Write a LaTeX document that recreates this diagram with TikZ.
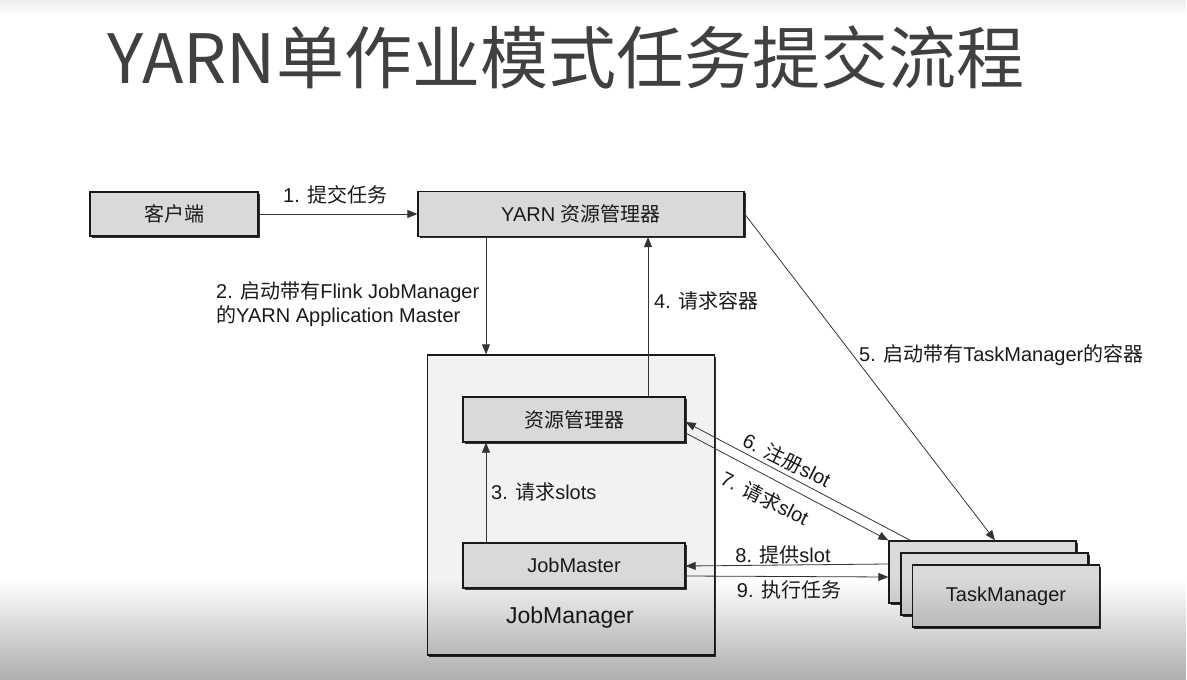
\documentclass[tikz,border=0pt]{standalone}
\usepackage{fontspec}
\setmainfont{Liberation Sans}
\newfontfamily\cjk{Noto Sans CJK SC}
\usetikzlibrary{arrows.meta,shadows,fadings,calc}
\definecolor{boxgray}{HTML}{D9D9D9}
\definecolor{jmfill}{HTML}{F2F2F2}
\definecolor{titlegray}{HTML}{404040}
\definecolor{txt}{HTML}{1A1A1A}
\tikzfading[name=botfade, top color=transparent!100, bottom color=transparent!68]
\tikzfading[name=topfade, top color=transparent!93, bottom color=transparent!100]
\begin{document}
\begin{tikzpicture}[x=1pt,y=-1pt,
  box/.style={draw=black!90, line width=1.3pt, fill=boxgray, inner sep=0pt,
    drop shadow={shadow xshift=1.5pt, shadow yshift=-1.5pt, fill=black!80, opacity=1},
    text=txt, font=\fontsize{20}{24}\selectfont},
  outerbox/.style={box, fill=jmfill},
  arr/.style={draw=black!80, line width=0.8pt, -{Triangle[length=10pt,width=8pt]}},
  lbl/.style={inner sep=0pt, text=txt, font=\fontsize{20}{24}\selectfont}]
\useasboundingbox (0,0) rectangle (1187,680);
\fill[white] (0,0) rectangle (1187,680);
\fill[black, path fading=topfade] (0,0) rectangle (1187,16);

% title
\node[anchor=base west, inner sep=0pt, text=titlegray, font=\cjk\fontsize{68}{72}\selectfont] (title) at (107,83) {YARN单作业模式任务提交流程};

% boxes
\node[box, minimum width=168, minimum height=44] (client) at (174,214) {\cjk 客户端};
\node[box, minimum width=326, minimum height=45] (yarn) at (581,214) {YARN {\cjk 资源管理器}};
\node[outerbox, minimum width=287, minimum height=300] (jm) at (571,505) {};
\node[lbl, font=\fontsize{23}{27}\selectfont] (jmlabel) at (570,618) {JobManager};
\node[box, minimum width=222, minimum height=45] (rm) at (574,419.5) {\cjk 资源管理器};
\node[box, minimum width=222, minimum height=45] (jmaster) at (574,565.5) {JobMaster};
\node[box, minimum width=187, minimum height=62] (tm1) at (982.5,572) {};
\node[box, minimum width=187, minimum height=62] (tm2) at (994.5,584) {};
\node[box, minimum width=187, minimum height=62] (tm3) at (1006,596) {TaskManager};

% helper coordinates
\coordinate (xa) at (486,0);
\coordinate (xb) at (648,0);
\coordinate (xc) at (995,0);

% connectors
\draw[arr] (client.east) -- (yarn.west);
\draw[arr] (yarn.south -| xa) -- (jm.north -| xa);
\draw[arr] (rm.north -| xb) -- (yarn.south -| xb);
\draw[arr] (jmaster.north -| xa) -- (rm.south -| xa);
\draw[arr] (yarn.east) -- (tm1.north -| xc);
\draw[arr] ($(tm1.north west)+(22,0)$) -- ($(rm.east)+(0,2.5)$);
\draw[arr] ($(rm.east)+(0,13.5)$) -- (tm1.north west);
\draw[arr] ($(tm1.west)+(0,-8)$) -- ($(jmaster.east)+(0,0.5)$);
\draw[arr] ($(jmaster.east)+(0,10.5)$) -- ($(tm1.west)+(0,5)$);

% labels
\node[lbl, anchor=west] (l1) at (283,195) {1. {\cjk 提交任务}};
\node[lbl, anchor=west, align=left] (l2) at (216,304) {2. {\cjk 启动带有}Flink JobManager\\{\cjk 的}YARN Application Master};
\node[lbl, anchor=west] (l3) at (491,492) {3. {\cjk 请求}slots};
\node[lbl, anchor=west] (l4) at (654,301) {4. {\cjk 请求容器}};
\node[lbl, anchor=west] (l5) at (859,355) {5. {\cjk 启动带有}TaskManager{\cjk 的容器}};
\node[lbl, rotate=-26.5] (l6) at (787,460) {6. {\cjk 注册}slot};
\node[lbl, rotate=-26.5] (l7) at (765,498) {7. {\cjk 请求}slot};
\node[lbl] (l8) at (783,555) {8. {\cjk 提供}slot};
\node[lbl] (l9) at (789,590) {9. {\cjk 执行任务}};

% video bottom gradient
\fill[black, path fading=botfade] (0,580) rectangle (1187,680);
\end{tikzpicture}
\end{document}
